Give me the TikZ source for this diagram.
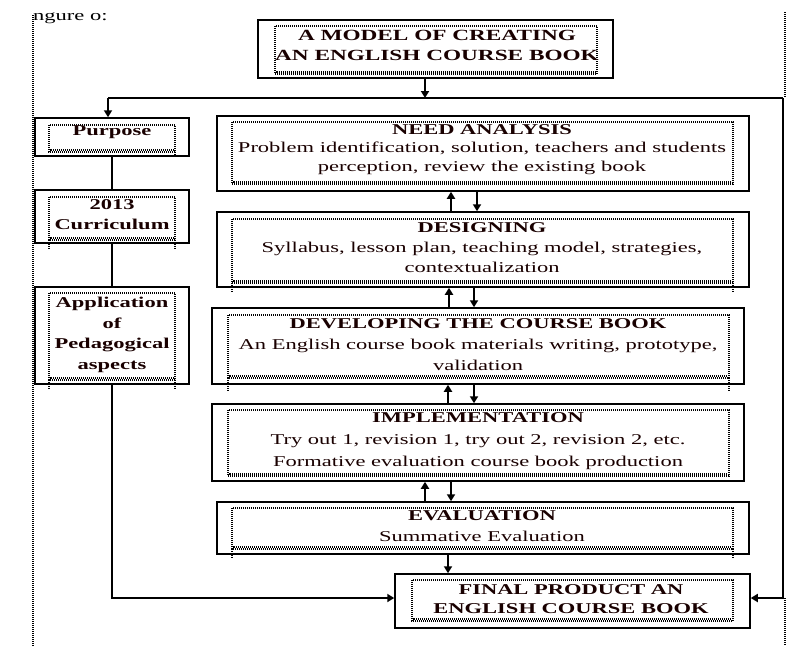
\documentclass[tikz,border=0pt]{standalone}
\usepackage{fontspec}
\setmainfont{Liberation Serif}[FakeStretch=1.5]
\usetikzlibrary{arrows.meta,fit}
\newcommand\dotbox[4]{%
  \draw[dotline] (#1,#2) rectangle (#3,#4);
  \draw[dotline,dash phase=0.8pt] (#1+1,#4-2) -- (#3-1,#4-2);}
\begin{document}
\begin{tikzpicture}[x=1pt,y=-1pt,
  obox/.style={draw, line width=1.5pt, inner sep=0pt},
  txt/.style={align=center, inner sep=0pt, text=black!90!red},
  dotline/.style={dash pattern=on 1pt off 1pt, line width=1.1pt},
  arr/.style={-{Triangle[width=8pt,length=7pt]}, line width=2pt},
  ln/.style={line width=2.4pt},
  longarr/.style={-{Triangle[width=8pt,length=7pt]}, line width=2.4pt},
  border/.style={dash pattern=on 1pt off 1pt, line width=1.2pt}]
\useasboundingbox (0,0) rectangle (795,646);
% page borders
\draw[border] (33,15) -- (33,646);
\draw[border] (785,12) -- (785,98);
\draw[border] (785,598) -- (785,646);
\node[anchor=base west, inner sep=0pt, font=\fontsize{15}{18}\selectfont] (fig) at (33,20) {ngure o:};
% outer boxes
\node[obox, fit={(258,20) (613,78)}] (title) {};
\node[obox, fit={(35,118) (189,156)}] (purpose) {};
\node[obox, fit={(35,190) (189,243)}] (curr) {};
\node[obox, fit={(35,287) (189,384)}] (app) {};
\node[obox, fit={(217,116) (749,191)}] (need) {};
\node[obox, fit={(217,212) (749,287)}] (des) {};
\node[obox, fit={(212,308) (744,384)}] (dev) {};
\node[obox, fit={(212,404) (744,481)}] (imp) {};
\node[obox, fit={(217,502) (749,554)}] (eval) {};
\node[obox, fit={(395,574) (750,628)}] (final) {};
% inner dotted frames
\dotbox{275}{26}{597}{74}
\dotbox{49}{125}{175}{152}
\draw[dotline] (175,152) -- (175,157);
\dotbox{49}{197}{175}{240}
\draw[dotline] (49,240) -- (49,250);
\draw[dotline] (175,240) -- (175,250);
\dotbox{49}{293}{175}{380}
\draw[dotline] (49,380) -- (49,390);
\draw[dotline] (175,380) -- (175,390);
\dotbox{232}{122}{733}{184}
\dotbox{232}{219}{733}{283}
\draw[dotline] (232,283) -- (232,293);
\draw[dotline] (733,283) -- (733,293);
\dotbox{228}{315}{729}{378}
\draw[dotline] (228,378) -- (228,391);
\draw[dotline] (729,378) -- (729,391);
\dotbox{228}{410}{729}{476}
\dotbox{232}{508}{733}{549}
\draw[dotline] (232,549) -- (232,558);
\draw[dotline] (733,549) -- (733,558);
\dotbox{412}{580}{733}{621}
% texts
\node[txt, font=\bfseries\fontsize{15.5}{20}\selectfont] (titleT) at (437,45) {A MODEL OF CREATING\\AN ENGLISH COURSE BOOK};
\node[txt, font=\bfseries\fontsize{15}{20}\selectfont] (purposeT) at (112,132) {Purpose};
\node[txt, font=\bfseries\fontsize{15}{20}\selectfont] (currT) at (112,214.5) {2013\\Curriculum};
\node[txt, font=\bfseries\fontsize{15}{20.5}\selectfont] (appT) at (112,335) {Application\\of\\Pedagogical\\aspects};
\node[txt, font=\fontsize{15}{18.5}\selectfont] (needT) at (482,149.5) {\textbf{NEED ANALYSIS}\\Problem identification, solution, teachers and students\\perception, review the existing book};
\node[txt, font=\fontsize{15}{20}\selectfont] (desT) at (482,248) {\textbf{DESIGNING}\\Syllabus, lesson plan, teaching model, strategies,\\contextualization};
\node[txt, font=\fontsize{15}{21}\selectfont] (devT) at (478,345) {\textbf{DEVELOPING THE COURSE BOOK}\\An English course book materials writing, prototype,\\validation};
\node[txt, font=\fontsize{15}{22}\selectfont] (impT) at (478,441) {\textbf{IMPLEMENTATION}\\Try out 1, revision 1, try out 2, revision 2, etc.\\Formative evaluation course book production};
\node[txt, font=\fontsize{15}{21}\selectfont] (evalT) at (482,526) {\textbf{EVALUATION}\\Summative Evaluation};
\node[txt, font=\bfseries\fontsize{15}{19.5}\selectfont] (finalT) at (571,599) {FINAL PRODUCT AN\\ENGLISH COURSE BOOK};
% coordinates for connectors
\coordinate (topL) at (108,98);
\coordinate (topM) at (425,98);
\coordinate (topR) at (783,98);
\coordinate (botR) at (783,598);
\coordinate (botL) at (112,598);
\coordinate (u1) at (451,0); \coordinate (d1) at (477,0);
\coordinate (u2) at (449,0); \coordinate (d2) at (474,0);
\coordinate (u3) at (448,0); \coordinate (d3) at (474,0);
\coordinate (u4) at (425,0); \coordinate (d4) at (451,0);
\coordinate (d5) at (448,0);
% connectors
\draw[arr] (title.south -| topM) -- (topM);
\draw[ln] (topL) -- (topR);
\draw[longarr] (topL) -- (purpose.north -| topL);
\draw[ln] (purpose.south) -- (curr.north);
\draw[ln] (curr.south) -- (app.north);
\draw[longarr] (app.south) -- (botL) -- (final.west |- botL);
\draw[longarr] (topR) -- (botR) -- (final.east |- botR);
\draw[arr] (des.north -| u1) -- (need.south -| u1);
\draw[arr] (need.south -| d1) -- (des.north -| d1);
\draw[arr] (dev.north -| u2) -- (des.south -| u2);
\draw[arr] (des.south -| d2) -- (dev.north -| d2);
\draw[arr] (imp.north -| u3) -- (dev.south -| u3);
\draw[arr] (dev.south -| d3) -- (imp.north -| d3);
\draw[arr] (eval.north -| u4) -- (imp.south -| u4);
\draw[arr] (imp.south -| d4) -- (eval.north -| d4);
\draw[arr] (eval.south -| d5) -- (final.north -| d5);
\end{tikzpicture}
\end{document}
